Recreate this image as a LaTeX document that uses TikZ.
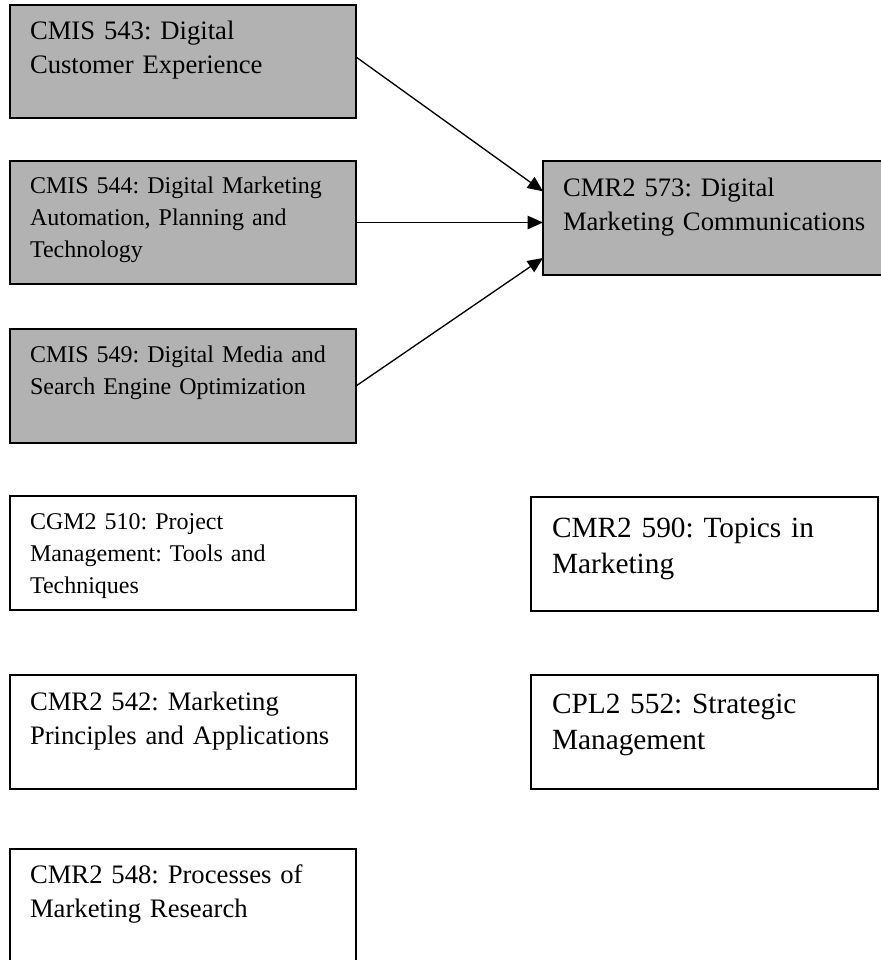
\documentclass[tikz,border=0pt]{standalone}
\usepackage{fontspec}
\setmainfont{Liberation Serif}
\usepackage{tikz}
\usetikzlibrary{arrows.meta,calc,positioning}
\definecolor{coregray}{RGB}{178,178,178}
\frenchspacing
\tikzset{
  course/.style={draw, line width=1.1pt, anchor=north west, align=left,
    inner xsep=15pt, inner ysep=0pt, outer sep=0pt, text width=229.5pt},
  core/.style={course, fill=coregray},
  elective/.style={course, fill=white},
  prereq/.style={-{Triangle[length=11.5pt,width=10pt]}, line width=1pt},
  szA/.style={font=\fontsize{20}{25.5}\selectfont},
  szB/.style={font=\fontsize{18}{24}\selectfont},
  szC/.style={font=\fontsize{22}{27}\selectfont},
}
\begin{document}
\begin{tikzpicture}
\useasboundingbox (0,0) rectangle (660.75pt,-720pt);
% core courses
\node[core, szA, text height=25.5pt, text depth=59.25pt] (b1) at (7.5pt,-3.75pt)
  {CMIS 543: Digital\\Customer Experience};
\node[core, szB, text height=24pt, text depth=68.25pt] (b2) at (7.5pt,-120.75pt)
  {CMIS 544: Digital Marketing\\Automation, Planning and\\Technology};
\node[core, szB, text height=24.75pt, text depth=60.75pt] (b3) at (7.5pt,-246.75pt)
  {CMIS 549: Digital Media and\\Search Engine Optimization};
\node[core, szA, text width=237.75pt, text height=26.25pt, text depth=59.25pt] (b4) at (407.25pt,-120.75pt)
  {CMR2 573: Digital\\Marketing Communications};
% other courses
\node[elective, szB, text height=24.75pt, text depth=60.75pt] (b5) at (7.5pt,-372pt)
  {CGM2 510: Project\\Management: Tools and\\Techniques};
\node[elective, szC, inner xsep=15.75pt, text width=228.75pt, text height=30pt, text depth=55.5pt] (b6) at (398.25pt,-372.75pt)
  {CMR2 590: Topics in\\Marketing};
\node[elective, szA, text height=26.25pt, text depth=59.25pt] (b7) at (7.5pt,-506.25pt)
  {CMR2 542: Marketing\\Principles and Applications};
\node[elective, szC, inner xsep=15.75pt, text width=228.75pt, text height=28.5pt, text depth=57pt] (b8) at (398.25pt,-506.25pt)
  {CPL2 552: Strategic\\Management};
\node[elective, szA, text height=25.5pt, text depth=72.75pt] (b9) at (7.5pt,-636.75pt)
  {CMR2 548: Processes of\\Marketing Research};
% prerequisites
\draw[prereq] ([yshift=3.4pt]b1.east) -- ([yshift=20pt]b4.west);
\draw[prereq] (b2.east) -- (b2.east -| b4.west);
\draw[prereq] (b3.east) -- ([yshift=-30pt]b4.west);
\end{tikzpicture}
\end{document}
